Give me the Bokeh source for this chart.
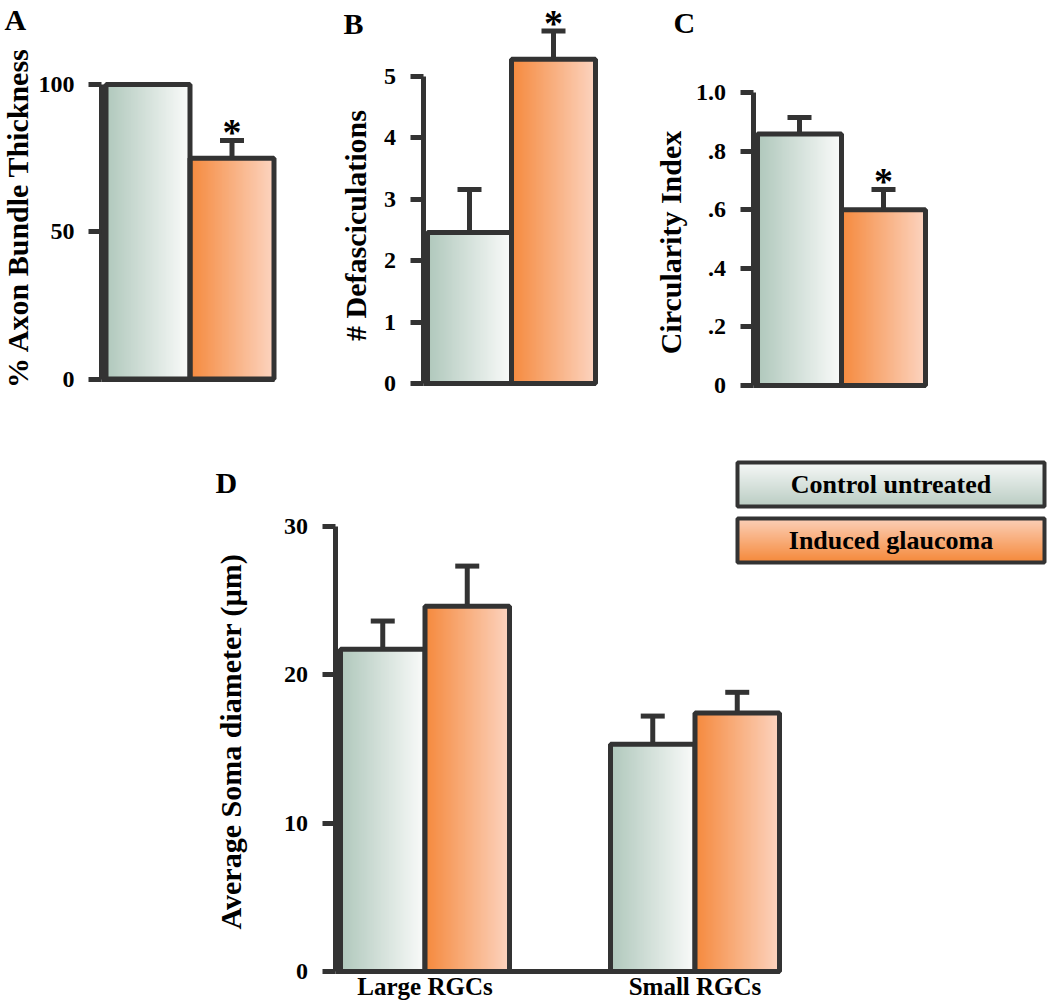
import numpy as np
from bokeh.plotting import figure
from bokeh.models import Range1d, FixedTicker, Label, Whisker, ColumnDataSource, TeeHead
from bokeh.layouts import row, column
from bokeh.embed import file_html
from bokeh.resources import INLINE
from bokeh.core.properties import value

# ---------------- data ----------------
series = ["Control untreated", "Induced glaucoma"]

a_values = [100.0, 75.0]
a_errors = [0.0, 6.0]
a_signif = [False, True]
a_ticks = [0, 50, 100]

b_values = [2.46, 5.28]
b_errors = [0.7, 0.46]
b_signif = [False, True]
b_ticks = [0, 1, 2, 3, 4, 5]

c_values = [0.858, 0.60]
c_errors = [0.057, 0.069]
c_signif = [False, True]
c_ticks = [0, 0.2, 0.4, 0.6, 0.8, 1.0]
c_tick_labels = ["0", ".2", ".4", ".6", ".8", "1.0"]

d_categories = ["Large RGCs", "Small RGCs"]
d_control = [21.7, 15.3]
d_control_err = [1.9, 1.9]
d_induced = [24.6, 17.4]
d_induced_err = [2.7, 1.4]
d_ticks = [0, 10, 20, 30]

# ---------------- style ----------------
FONT = "Liberation Serif"
INK = "#333333"
BAR_GRAD = {
    "Control untreated": ((176, 200, 188), (250, 251, 250)),
    "Induced glaucoma": ((245, 138, 62), (252, 212, 192)),
}
LEG_GRAD = {  # bottom -> top
    "Control untreated": ((186, 205, 195), (246, 248, 247)),
    "Induced glaucoma": ((245, 137, 58), (251, 208, 184)),
}
TOTAL_W = 1048
TOTAL_H = 1002
H1 = 440


def gradient(c0, c1, n=96, vertical=False):
    t = np.linspace(0, 1, n)
    rgba = np.empty((n, 4), dtype=np.uint8)
    for i in range(3):
        rgba[:, i] = np.round(c0[i] + (c1[i] - c0[i]) * t)
    rgba[:, 3] = 255
    img = rgba.view(np.uint32).reshape(n)
    return img.reshape((n, 1)) if vertical else img.reshape((1, n))


def style_y(ax, ticks, top, loc, labels=None):
    ax.fixed_location = loc
    ax.ticker = FixedTicker(ticks=ticks)
    ax.bounds = (0, top)
    ax.axis_line_width = 5
    ax.axis_line_color = INK
    ax.major_tick_line_width = 5
    ax.major_tick_line_color = INK
    ax.major_tick_out = 13
    ax.major_tick_in = 0
    ax.minor_tick_line_color = None
    ax.major_label_text_font = FONT
    ax.major_label_text_font_style = "bold"
    ax.major_label_text_font_size = "24px"
    ax.major_label_text_color = "black"
    ax.major_label_standoff = 14
    if labels is not None:
        ax.major_label_overrides = {t: l for t, l in zip(ticks, labels)}


def style_x(ax, start, end):
    ax.fixed_location = 0
    ax.bounds = (start, end)
    ax.axis_line_width = 5
    ax.axis_line_color = INK
    ax.major_tick_line_color = None
    ax.minor_tick_line_color = None


def add_label(p, text, x, y, size, angle=0.0, align="left", baseline="top"):
    p.add_layout(Label(x=x, y=y, x_units="screen", y_units="screen", text=text,
                       angle=angle, text_font=FONT, text_font_style="bold",
                       text_font_size=size, text_align=align,
                       text_baseline=baseline, text_color="black"))


def add_errors(p, xs, vals, errs, head):
    sel = [i for i, e in enumerate(errs) if e > 0]
    if not sel:
        return
    src = ColumnDataSource(dict(x=[xs[i] for i in sel],
                                lo=[vals[i] for i in sel],
                                hi=[vals[i] + errs[i] for i in sel]))
    p.add_layout(Whisker(source=src, base="x", lower="lo", upper="hi",
                         dimension="height", line_color=INK, line_width=5,
                         lower_head=None,
                         upper_head=TeeHead(size=head, line_color=INK, line_width=5)))


def add_stars(p, xs, vals, errs, signif):
    sx = [xs[i] for i, s in enumerate(signif) if s]
    sy = [vals[i] + errs[i] for i, s in enumerate(signif) if s]
    if sx:
        p.text(x=sx, y=sy, text=["*"] * len(sx), text_font=value(FONT),
               text_font_style="bold", text_font_size="38px",
               text_align="center", text_baseline="middle", y_offset=-8,
               text_color="black")


def new_fig(w, h, xr, yr):
    p = figure(width=w, height=h, x_range=xr, y_range=yr,
               min_border=0, min_border_left=0, min_border_right=0,
               min_border_top=0, min_border_bottom=0,
               toolbar_location=None, output_backend="svg",
               outline_line_color=None, background_fill_color="white",
               border_fill_color="white")
    p.grid.visible = False
    return p


def top_panel(width, values, errors, signif, ticks, tick_labels, k, base, axis_px,
              letter, letter_xy, title, title_xy):
    BAR, GAP = 84.0, 4.5
    n = len(values)
    bar0_px = axis_px + GAP
    x0 = -bar0_px / BAR
    x1 = x0 + width / BAR
    y0 = -(H1 - base) / k
    y1 = base / k
    p = new_fig(width, H1, Range1d(x0, x1), Range1d(y0, y1))
    lefts = list(range(n))
    centers = [l + 0.5 for l in lefts]
    imgs = [gradient(*BAR_GRAD[s]) for s in series[:n]]
    p.image_rgba(image=imgs, x=lefts, y=[0] * n, dw=[1] * n, dh=values)
    p.quad(left=lefts, right=[l + 1 for l in lefts], bottom=[0] * n, top=values,
           fill_color=None, line_color=INK, line_width=5)
    add_errors(p, centers, values, errors, 24)
    add_stars(p, centers, values, errors, signif)
    axis_x = -GAP / BAR
    style_y(p.yaxis[0], ticks, ticks[-1], axis_x, tick_labels)
    xa = p.xaxis[0]
    xa.ticker = FixedTicker(ticks=[])
    style_x(xa, axis_x, n)
    add_label(p, letter, letter_xy[0], H1 - letter_xy[1], "30px")
    add_label(p, title, title_xy[0], H1 - title_xy[1], "30px",
              angle=np.pi / 2, align="center", baseline="middle")
    return p


# ---- panel A (page x 0..300) ----
pA = top_panel(300, a_values, a_errors, a_signif, a_ticks, None,
               k=2.945, base=378.5, axis_px=101.0,
               letter="A", letter_xy=(4, 2), title="% Axon Bundle Thickness",
               title_xy=(17, 217))
# ---- panel B (page x 300..630) ----
pB = top_panel(330, b_values, b_errors, b_signif, b_ticks, None,
               k=61.4, base=383, axis_px=122.5,
               letter="B", letter_xy=(343 - 300, 6), title="# Defasciculations",
               title_xy=(355 - 300, 225))
# ---- panel C (page x 630..1048) ----
pC = top_panel(TOTAL_W - 630, c_values, c_errors, c_signif, c_ticks, c_tick_labels,
               k=293.0, base=385, axis_px=122.5,
               letter="C", letter_xy=(673 - 630, 5), title="Circularity Index",
               title_xy=(670 - 630, 242))

# ---- panel D (page y 440..1002) ----
DH = TOTAL_H - H1
D_AXIS = 334.5
D_BAR0 = 340.0
D_BASE = 971.0 - H1
D_K = 14.85
D_UNIT = 270.0
bw = 84.5 / D_UNIT
ng = len(d_categories)
gcent = list(range(ng))
dx0 = -bw - D_BAR0 / D_UNIT
dx1 = dx0 + TOTAL_W / D_UNIT
dy0 = -(DH - D_BASE) / D_K
dy1 = D_BASE / D_K
pD = new_fig(TOTAL_W, DH, Range1d(dx0, dx1), Range1d(dy0, dy1))
pD.extra_x_ranges = {"px": Range1d(0, TOTAL_W)}
pD.extra_y_ranges = {"px": Range1d(0, DH)}

for si, (vals, errs) in enumerate([(d_control, d_control_err), (d_induced, d_induced_err)]):
    lefts = [g - bw + si * bw for g in gcent]
    cents = [l + bw / 2 for l in lefts]
    img = gradient(*BAR_GRAD[series[si]])
    pD.image_rgba(image=[img] * ng, x=lefts, y=[0] * ng, dw=[bw] * ng, dh=vals)
    pD.quad(left=lefts, right=[l + bw for l in lefts], bottom=[0] * ng, top=vals,
            fill_color=None, line_color=INK, line_width=5)
    add_errors(pD, cents, vals, errs, 24)

d_axis_x = -bw - (D_BAR0 - D_AXIS) / D_UNIT
style_y(pD.yaxis[0], d_ticks, d_ticks[-1], d_axis_x)
xa = pD.xaxis[0]
xa.ticker = FixedTicker(ticks=gcent)
xa.major_label_overrides = {g: c for g, c in zip(gcent, d_categories)}
style_x(xa, d_axis_x, gcent[-1] + bw)
xa.major_label_text_font = FONT
xa.major_label_text_font_style = "bold"
xa.major_label_text_font_size = "25px"
xa.major_label_text_color = "black"
xa.major_label_standoff = 1
xa.major_tick_out = 0
xa.major_tick_in = 0

add_label(pD, "D", 215, DH - (465 - H1), "30px")
add_label(pD, "Average Soma diameter (\u00b5m)", 230, DH - (741 - H1), "30px",
          angle=np.pi / 2, align="center", baseline="middle")

# legend (pixel coordinates of panel D)
LX0, LX1, LH, LGAP, LTOP = 737, 1044, 44, 12, DH - 462 + H1
for i, s in enumerate(series):
    b0 = LTOP - LH - i * (LH + LGAP)
    img = gradient(*LEG_GRAD[s], n=64, vertical=True)
    pD.image_rgba(image=[img], x=[LX0], y=[b0], dw=[LX1 - LX0], dh=[LH],
                  x_range_name="px", y_range_name="px")
    pD.quad(left=[LX0], right=[LX1], bottom=[b0], top=[b0 + LH], fill_color=None,
            line_color=INK, line_width=4, x_range_name="px", y_range_name="px")
    pD.text(x=[(LX0 + LX1) / 2], y=[b0 + LH / 2], text=[s], text_font=value(FONT),
            text_font_style="bold", text_font_size="26px", text_align="center",
            text_baseline="middle", text_color="black",
            x_range_name="px", y_range_name="px")

layout = column(row(pA, pB, pC), pD)
open("out.html", "w").write(file_html(layout, INLINE))
